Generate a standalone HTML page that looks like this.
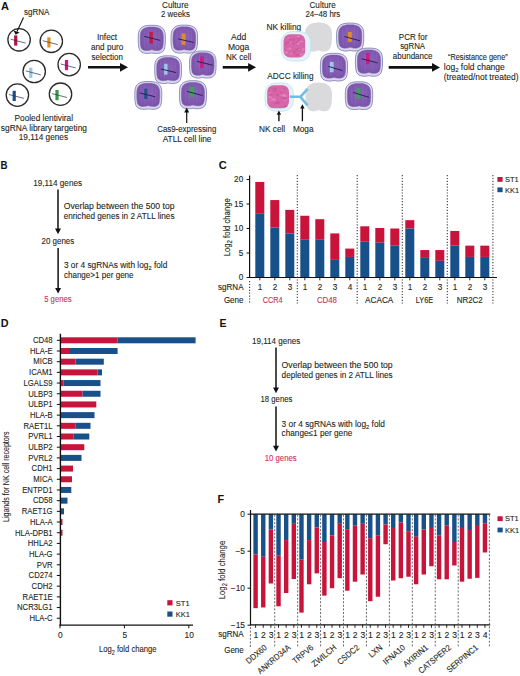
<!DOCTYPE html><html><head><meta charset="utf-8"><style>html,body{margin:0;padding:0;background:#fff;} svg{display:block;} text{font-family:"Liberation Sans", sans-serif;}</style></head><body>
<svg width="520" height="676" viewBox="0 0 520 676">
<rect width="520" height="676" fill="#fff"/>
<text x="1" y="9.8" font-size="11" text-anchor="start" fill="#111" stroke="#111" stroke-width="0" font-weight="bold" >A</text>
<text x="24" y="14.8" font-size="8.5" text-anchor="start" fill="#231f20" stroke="#231f20" stroke-width="0.1" font-weight="normal" textLength="25.4" lengthAdjust="spacingAndGlyphs" >sgRNA</text>
<circle cx="19.1" cy="39.8" r="11.2" fill="#fff" stroke="#2b2b2b" stroke-width="1.3"/>
<rect x="14.1" y="35.4" width="3.2" height="10.2" fill="#b5123f"/>
<line x1="10.600000000000001" y1="39.199999999999996" x2="25.6" y2="43.099999999999994" stroke="#2a2f4a" stroke-width="0.7"/>
<circle cx="51.3" cy="41.3" r="11.2" fill="#fff" stroke="#2b2b2b" stroke-width="1.3"/>
<rect x="47.3" y="37.3" width="3.2" height="10.2" fill="#e8901f"/>
<line x1="42.8" y1="40.699999999999996" x2="57.8" y2="44.599999999999994" stroke="#2a2f4a" stroke-width="0.7"/>
<circle cx="34.2" cy="71.5" r="11.2" fill="#fff" stroke="#2b2b2b" stroke-width="1.3"/>
<rect x="29.2" y="67.7" width="3.2" height="10.2" fill="#8fcbe8"/>
<line x1="25.700000000000003" y1="70.9" x2="40.7" y2="74.8" stroke="#2a2f4a" stroke-width="0.7"/>
<circle cx="69.2" cy="64.6" r="11.2" fill="#fff" stroke="#2b2b2b" stroke-width="1.3"/>
<rect x="64.9" y="60.0" width="3.2" height="10.2" fill="#d4157f"/>
<line x1="60.7" y1="63.99999999999999" x2="75.7" y2="67.89999999999999" stroke="#2a2f4a" stroke-width="0.7"/>
<circle cx="17.4" cy="95.1" r="11.2" fill="#fff" stroke="#2b2b2b" stroke-width="1.3"/>
<rect x="12.6" y="90.8" width="3.2" height="10.2" fill="#1c4f8a"/>
<line x1="8.899999999999999" y1="94.5" x2="23.9" y2="98.39999999999999" stroke="#2a2f4a" stroke-width="0.7"/>
<circle cx="60.5" cy="94.2" r="11.2" fill="#fff" stroke="#2b2b2b" stroke-width="1.3"/>
<rect x="55.4" y="90.0" width="3.2" height="10.2" fill="#2f9a48"/>
<line x1="52.0" y1="93.60000000000001" x2="67.0" y2="97.5" stroke="#2a2f4a" stroke-width="0.7"/>
<line x1="23.5" y1="17.5" x2="17" y2="31.5" stroke="#111" stroke-width="1.1"/>
<polygon points="13.6,30.5 15.6,34.8 19.6,32.4" fill="#111"/>
<text x="14.5" y="121" font-size="8.5" text-anchor="start" fill="#231f20" stroke="#231f20" stroke-width="0.1" font-weight="normal" textLength="58.5" lengthAdjust="spacingAndGlyphs" >Pooled lentiviral</text>
<text x="0.8" y="130.8" font-size="8.5" text-anchor="start" fill="#231f20" stroke="#231f20" stroke-width="0.1" font-weight="normal" textLength="86.2" lengthAdjust="spacingAndGlyphs" >sgRNA library targeting</text>
<text x="18.8" y="140.3" font-size="8.5" text-anchor="start" fill="#231f20" stroke="#231f20" stroke-width="0.1" font-weight="normal" textLength="49.2" lengthAdjust="spacingAndGlyphs" >19,114 genes</text>
<text x="97" y="40.3" font-size="8.5" text-anchor="start" fill="#231f20" stroke="#231f20" stroke-width="0.1" font-weight="normal" textLength="20.1" lengthAdjust="spacingAndGlyphs" >Infect</text>
<text x="91" y="50.0" font-size="8.5" text-anchor="start" fill="#231f20" stroke="#231f20" stroke-width="0.1" font-weight="normal" textLength="32.3" lengthAdjust="spacingAndGlyphs" >and puro</text>
<text x="91.5" y="59.6" font-size="8.5" text-anchor="start" fill="#231f20" stroke="#231f20" stroke-width="0.1" font-weight="normal" textLength="31.4" lengthAdjust="spacingAndGlyphs" >selection</text>
<line x1="88" y1="67.3" x2="121" y2="67.3" stroke="#111" stroke-width="2.6"/>
<polygon points="120,62.9 128,67.3 120,71.7" fill="#111"/>
<defs>
<radialGradient id="cg" cx="0.5" cy="0.45" r="0.6"><stop offset="0" stop-color="#8a62b8"/><stop offset="1" stop-color="#7a52aa"/></radialGradient>
<g id="cellbody"><path d="M13.5,0.3 C21,0.1 26.5,2 26.9,10 C27.2,16 27,21.5 25.8,24.8 C24.4,28 20,28.8 16.5,28.5 C15.2,28.4 14.3,28 13.5,28 C12.7,28 11.8,28.4 10.5,28.5 C7,28.8 2.6,28 1.2,24.8 C0,21.5 -0.2,16 0.1,10 C0.5,2 6,0.1 13.5,0.3 Z" fill="#dcd5ee" stroke="#6f74a6" stroke-width="0.75"/><path d="M13.5,2.1 C19.8,1.9 24.5,3.6 24.9,10.3 C25.2,15.8 25,20.5 24,23 C22.8,25.6 19.5,25.9 16.5,25.5 C15.2,25.3 14.3,24.8 13.5,24.8 C12.7,24.8 11.8,25.3 10.5,25.5 C7.5,25.9 4.2,25.6 3,23 C2,20.5 1.8,15.8 2.1,10.3 C2.5,3.6 7.2,1.9 13.5,2.1 Z" fill="url(#cg)" stroke="#7360a8" stroke-width="0.5"/><path d="M6,5 L6.5,23 M10,4 L10,24 M17.5,4 L17.5,24 M21,5 L20.5,23" stroke="#9a82d2" stroke-width="1.2" opacity="0.2"/></g>
</defs>
<text x="162" y="8.2" font-size="8.5" text-anchor="start" fill="#231f20" stroke="#231f20" stroke-width="0.1" font-weight="normal" textLength="26.5" lengthAdjust="spacingAndGlyphs" >Culture</text>
<text x="161" y="17.1" font-size="8.5" text-anchor="start" fill="#231f20" stroke="#231f20" stroke-width="0.1" font-weight="normal" textLength="28.9" lengthAdjust="spacingAndGlyphs" >2 weeks</text>
<g transform="translate(138.2,25) scale(1.007,0.997)"><use href="#cellbody"/></g>
<rect x="149.4" y="32" width="3.50" height="11.60" fill="#c8133b" opacity="0.9"/>
<line x1="144.1" y1="36.3" x2="160.3" y2="40.4" stroke="#2a1d50" stroke-width="0.95"/>
<g transform="translate(171,24.8) scale(0.985,0.993)"><use href="#cellbody"/></g>
<rect x="181.5" y="33.5" width="4.10" height="11.30" fill="#e8901f" opacity="0.9"/>
<line x1="178.2" y1="38.9" x2="193.7" y2="42.5" stroke="#2a1d50" stroke-width="0.95"/>
<g transform="translate(154.7,55.5) scale(0.996,0.983)"><use href="#cellbody"/></g>
<rect x="164.1" y="63.8" width="3.40" height="10.80" fill="#9fd3f0" opacity="0.9"/>
<line x1="160.8" y1="69" x2="176.2" y2="72.6" stroke="#2a1d50" stroke-width="0.95"/>
<g transform="translate(189.5,50.7) scale(0.985,0.959)"><use href="#cellbody"/></g>
<rect x="200" y="56.4" width="3.80" height="11.50" fill="#d4157f" opacity="0.9"/>
<line x1="197.1" y1="61.4" x2="212.6" y2="65.2" stroke="#2a1d50" stroke-width="0.95"/>
<g transform="translate(134.8,81.2) scale(1.000,0.986)"><use href="#cellbody"/></g>
<rect x="144.2" y="88.7" width="3.20" height="10.30" fill="#1c4f8a" opacity="0.9"/>
<line x1="139.5" y1="92.9" x2="155.3" y2="96.8" stroke="#2a1d50" stroke-width="0.95"/>
<g transform="translate(179.4,80.4) scale(1.004,0.993)"><use href="#cellbody"/></g>
<rect x="190.1" y="86.7" width="4.10" height="10.10" fill="#2fae4a" opacity="0.9"/>
<line x1="187" y1="91.4" x2="202.5" y2="95.5" stroke="#2a1d50" stroke-width="0.95"/>
<line x1="186.7" y1="123" x2="186.7" y2="112.0" stroke="#111" stroke-width="1.2"/>
<polygon points="184.2,112.5 186.7,107.5 189.2,112.5" fill="#111"/>
<text x="157.2" y="131.6" font-size="8.5" text-anchor="start" fill="#231f20" stroke="#231f20" stroke-width="0.1" font-weight="normal" textLength="59.2" lengthAdjust="spacingAndGlyphs" >Cas9-expressing</text>
<text x="162.7" y="142.0" font-size="8.5" text-anchor="start" fill="#231f20" stroke="#231f20" stroke-width="0.1" font-weight="normal" textLength="48.8" lengthAdjust="spacingAndGlyphs" >ATLL cell line</text>
<text x="231.1" y="40.1" font-size="8.5" text-anchor="start" fill="#231f20" stroke="#231f20" stroke-width="0.1" font-weight="normal" textLength="15.2" lengthAdjust="spacingAndGlyphs" >Add</text>
<text x="227.9" y="50.1" font-size="8.5" text-anchor="start" fill="#231f20" stroke="#231f20" stroke-width="0.1" font-weight="normal" textLength="21.3" lengthAdjust="spacingAndGlyphs" >Moga</text>
<text x="225.9" y="59.7" font-size="8.5" text-anchor="start" fill="#231f20" stroke="#231f20" stroke-width="0.1" font-weight="normal" textLength="25.4" lengthAdjust="spacingAndGlyphs" >NK cell</text>
<line x1="222.7" y1="67.3" x2="249.10000000000002" y2="67.3" stroke="#111" stroke-width="2.6"/>
<polygon points="248.10000000000002,62.9 256.1,67.3 248.10000000000002,71.7" fill="#111"/>
<text x="309.5" y="8.4" font-size="8.5" text-anchor="start" fill="#231f20" stroke="#231f20" stroke-width="0.1" font-weight="normal" textLength="26.2" lengthAdjust="spacingAndGlyphs" >Culture</text>
<text x="305.4" y="17.2" font-size="8.5" text-anchor="start" fill="#231f20" stroke="#231f20" stroke-width="0.1" font-weight="normal" textLength="34.9" lengthAdjust="spacingAndGlyphs" >24–48 hrs</text>
<text x="266.5" y="29.9" font-size="8.5" text-anchor="start" fill="#231f20" stroke="#231f20" stroke-width="0.1" font-weight="normal" textLength="34.7" lengthAdjust="spacingAndGlyphs" >NK killing</text>
<g transform="translate(305,22.4) scale(1.000,1.014)"><path d="M13.5,0.2 C21.5,0 26.8,3.5 27,11 C27.2,17 26.8,22 25.2,25.2 C23.6,28.6 19.5,29.2 16.5,28.6 C15.2,28.3 14.3,27.8 13.5,27.8 C12.7,27.8 11.8,28.3 10.5,28.6 C7.5,29.2 3.4,28.6 1.8,25.2 C0.2,22 -0.2,17 0,11 C0.2,3.5 5.5,0 13.5,0.2 Z" fill="#dadadc"/></g>
<rect x="281.2" y="31.5" width="29.4" height="29.6" rx="10.58" fill="#e3f1f9" stroke="#bfe0f1" stroke-width="0.7"/>
<rect x="283.5" y="34.3" width="21.70" height="23.10" rx="6.51" fill="#d766a8"/>
<ellipse cx="296.9" cy="49.8" rx="1.6" ry="1.0" fill="#c2508f" opacity="0.55"/>
<ellipse cx="297.2" cy="43.8" rx="1.4" ry="0.8" fill="#e690c4" opacity="0.55"/>
<ellipse cx="298.6" cy="40.9" rx="1.5" ry="0.9" fill="#c2508f" opacity="0.55"/>
<ellipse cx="303.2" cy="49.4" rx="1.7" ry="1.3" fill="#e690c4" opacity="0.55"/>
<ellipse cx="293.4" cy="39.5" rx="1.7" ry="1.3" fill="#c2508f" opacity="0.55"/>
<ellipse cx="289.5" cy="48.7" rx="2.2" ry="1.3" fill="#e690c4" opacity="0.55"/>
<ellipse cx="297.2" cy="54.8" rx="2.0" ry="1.0" fill="#c2508f" opacity="0.55"/>
<ellipse cx="288.4" cy="38.0" rx="1.5" ry="0.8" fill="#e690c4" opacity="0.55"/>
<ellipse cx="290.1" cy="39.6" rx="1.5" ry="1.1" fill="#c2508f" opacity="0.55"/>
<ellipse cx="290.3" cy="42.7" rx="1.1" ry="1.3" fill="#e690c4" opacity="0.55"/>
<ellipse cx="294.3" cy="52.4" rx="1.4" ry="1.1" fill="#c2508f" opacity="0.55"/>
<ellipse cx="286.3" cy="52.5" rx="2.1" ry="1.2" fill="#e690c4" opacity="0.55"/>
<ellipse cx="297.9" cy="49.2" rx="1.3" ry="0.9" fill="#c2508f" opacity="0.55"/>
<ellipse cx="298.5" cy="43.4" rx="1.1" ry="1.4" fill="#e690c4" opacity="0.55"/>
<ellipse cx="298.7" cy="38.6" rx="2.1" ry="0.8" fill="#c2508f" opacity="0.55"/>
<ellipse cx="299.5" cy="41.7" rx="1.1" ry="0.7" fill="#e690c4" opacity="0.55"/>
<ellipse cx="293.5" cy="43.5" rx="1.4" ry="0.9" fill="#c2508f" opacity="0.55"/>
<ellipse cx="301.8" cy="54.3" rx="1.9" ry="1.4" fill="#e690c4" opacity="0.55"/>
<ellipse cx="287.9" cy="42.6" rx="2.1" ry="1.2" fill="#c2508f" opacity="0.55"/>
<ellipse cx="298.3" cy="36.5" rx="1.6" ry="0.9" fill="#e690c4" opacity="0.55"/>
<ellipse cx="299.9" cy="49.4" rx="2.2" ry="1.1" fill="#c2508f" opacity="0.55"/>
<ellipse cx="299.6" cy="49.5" rx="2.0" ry="0.8" fill="#e690c4" opacity="0.55"/>
<ellipse cx="296.4" cy="42.6" rx="1.1" ry="1.2" fill="#c2508f" opacity="0.55"/>
<ellipse cx="291.1" cy="53.7" rx="1.1" ry="1.4" fill="#e690c4" opacity="0.55"/>
<ellipse cx="285.9" cy="44.0" rx="1.1" ry="1.2" fill="#c2508f" opacity="0.55"/>
<ellipse cx="301.5" cy="41.5" rx="2.0" ry="1.1" fill="#e690c4" opacity="0.55"/>
<g transform="translate(336.6,22.8) scale(1.007,0.990)"><use href="#cellbody"/></g>
<rect x="348" y="32" width="3.80" height="9.80" fill="#e8901f" opacity="0.9"/>
<line x1="344.5" y1="36.6" x2="360" y2="40.8" stroke="#2a1d50" stroke-width="0.95"/>
<g transform="translate(320.4,53) scale(1.007,0.983)"><use href="#cellbody"/></g>
<rect x="329.8" y="61.9" width="3.80" height="10.40" fill="#9fd3f0" opacity="0.9"/>
<line x1="328.4" y1="66.4" x2="342.4" y2="70.6" stroke="#2a1d50" stroke-width="0.95"/>
<g transform="translate(355.4,47.8) scale(1.004,0.997)"><use href="#cellbody"/></g>
<rect x="365.9" y="53" width="3.70" height="11.30" fill="#d4157f" opacity="0.9"/>
<line x1="361.4" y1="58.7" x2="377.6" y2="62.9" stroke="#2a1d50" stroke-width="0.95"/>
<g transform="translate(345.3,81.5) scale(1.015,0.983)"><use href="#cellbody"/></g>
<rect x="356.5" y="88.2" width="3.80" height="10.60" fill="#2fae4a" opacity="0.9"/>
<line x1="353" y1="92.4" x2="369.1" y2="97.4" stroke="#2a1d50" stroke-width="0.95"/>
<text x="267.3" y="79.3" font-size="8.5" text-anchor="start" fill="#231f20" stroke="#231f20" stroke-width="0.1" font-weight="normal" textLength="46.2" lengthAdjust="spacingAndGlyphs" >ADCC killing</text>
<g transform="translate(305.5,82.3) scale(0.981,1.007)"><path d="M13.5,0.2 C21.5,0 26.8,3.5 27,11 C27.2,17 26.8,22 25.2,25.2 C23.6,28.6 19.5,29.2 16.5,28.6 C15.2,28.3 14.3,27.8 13.5,27.8 C12.7,27.8 11.8,28.3 10.5,28.6 C7.5,29.2 3.4,28.6 1.8,25.2 C0.2,22 -0.2,17 0,11 C0.2,3.5 5.5,0 13.5,0.2 Z" fill="#dadadc"/></g>
<rect x="265" y="83" width="28.5" height="28.2" rx="10.26" fill="#e3f1f9" stroke="#bfe0f1" stroke-width="0.7"/>
<rect x="267.2" y="85.2" width="21.80" height="23.10" rx="6.54" fill="#d766a8"/>
<ellipse cx="281.4" cy="92.1" rx="1.3" ry="0.9" fill="#c2508f" opacity="0.55"/>
<ellipse cx="285.2" cy="100.5" rx="1.2" ry="0.7" fill="#e690c4" opacity="0.55"/>
<ellipse cx="284.2" cy="89.0" rx="1.1" ry="1.5" fill="#c2508f" opacity="0.55"/>
<ellipse cx="269.5" cy="96.6" rx="1.6" ry="1.3" fill="#e690c4" opacity="0.55"/>
<ellipse cx="271.5" cy="89.2" rx="1.6" ry="1.4" fill="#c2508f" opacity="0.55"/>
<ellipse cx="270.4" cy="97.6" rx="1.4" ry="1.3" fill="#e690c4" opacity="0.55"/>
<ellipse cx="270.7" cy="95.1" rx="2.1" ry="0.9" fill="#c2508f" opacity="0.55"/>
<ellipse cx="270.0" cy="92.8" rx="1.1" ry="1.3" fill="#e690c4" opacity="0.55"/>
<ellipse cx="282.7" cy="96.8" rx="2.2" ry="1.3" fill="#c2508f" opacity="0.55"/>
<ellipse cx="284.2" cy="96.0" rx="2.2" ry="1.1" fill="#e690c4" opacity="0.55"/>
<ellipse cx="277.6" cy="94.9" rx="1.8" ry="0.8" fill="#c2508f" opacity="0.55"/>
<ellipse cx="273.1" cy="99.5" rx="1.7" ry="0.7" fill="#e690c4" opacity="0.55"/>
<ellipse cx="285.7" cy="106.0" rx="2.0" ry="1.0" fill="#c2508f" opacity="0.55"/>
<ellipse cx="283.0" cy="89.8" rx="1.0" ry="0.8" fill="#e690c4" opacity="0.55"/>
<ellipse cx="276.2" cy="103.1" rx="2.3" ry="0.9" fill="#c2508f" opacity="0.55"/>
<ellipse cx="270.4" cy="89.5" rx="2.0" ry="1.0" fill="#e690c4" opacity="0.55"/>
<ellipse cx="275.5" cy="88.9" rx="1.8" ry="1.1" fill="#c2508f" opacity="0.55"/>
<ellipse cx="273.8" cy="99.6" rx="2.2" ry="1.5" fill="#e690c4" opacity="0.55"/>
<ellipse cx="278.3" cy="102.5" rx="1.5" ry="1.5" fill="#c2508f" opacity="0.55"/>
<ellipse cx="285.1" cy="95.9" rx="1.8" ry="1.1" fill="#e690c4" opacity="0.55"/>
<ellipse cx="269.8" cy="89.9" rx="1.4" ry="1.3" fill="#c2508f" opacity="0.55"/>
<ellipse cx="270.5" cy="100.7" rx="1.1" ry="0.9" fill="#e690c4" opacity="0.55"/>
<ellipse cx="284.9" cy="98.0" rx="1.8" ry="1.0" fill="#c2508f" opacity="0.55"/>
<ellipse cx="282.2" cy="95.4" rx="1.8" ry="1.2" fill="#e690c4" opacity="0.55"/>
<ellipse cx="274.6" cy="90.8" rx="1.6" ry="1.2" fill="#c2508f" opacity="0.55"/>
<ellipse cx="284.2" cy="95.1" rx="1.4" ry="1.0" fill="#e690c4" opacity="0.55"/>
<path d="M289.6,96.8 L300.4,96.8 L307.6,88.8 M300.4,96.8 L307.6,105.4" stroke="#74bde2" stroke-width="2.6" fill="none" stroke-linejoin="bevel"/>
<line x1="278.9" y1="121.3" x2="278.9" y2="114.2" stroke="#111" stroke-width="1.4"/>
<polygon points="276.7,114.7 278.9,110.5 281.09999999999997,114.7" fill="#111"/>
<line x1="302.4" y1="121.3" x2="302.4" y2="108.0" stroke="#111" stroke-width="1.3"/>
<polygon points="300.2,108.5 302.4,104.3 304.59999999999997,108.5" fill="#111"/>
<text x="259.1" y="131.9" font-size="8.5" text-anchor="start" fill="#231f20" stroke="#231f20" stroke-width="0.1" font-weight="normal" textLength="26.1" lengthAdjust="spacingAndGlyphs" >NK cell</text>
<text x="292.9" y="131.9" font-size="8.5" text-anchor="start" fill="#231f20" stroke="#231f20" stroke-width="0.1" font-weight="normal" textLength="20.6" lengthAdjust="spacingAndGlyphs" >Moga</text>
<text x="398.8" y="39.7" font-size="8.5" text-anchor="start" fill="#231f20" stroke="#231f20" stroke-width="0.1" font-weight="normal" textLength="28.6" lengthAdjust="spacingAndGlyphs" >PCR for</text>
<text x="400.2" y="49.3" font-size="8.5" text-anchor="start" fill="#231f20" stroke="#231f20" stroke-width="0.1" font-weight="normal" textLength="24.9" lengthAdjust="spacingAndGlyphs" >sgRNA</text>
<text x="392.8" y="58.9" font-size="8.5" text-anchor="start" fill="#231f20" stroke="#231f20" stroke-width="0.1" font-weight="normal" textLength="39.7" lengthAdjust="spacingAndGlyphs" >abundance</text>
<line x1="388.7" y1="67.4" x2="433" y2="67.4" stroke="#111" stroke-width="2.6"/>
<polygon points="432,63.00000000000001 440,67.4 432,71.80000000000001" fill="#111"/>
<text x="448" y="60.0" font-size="8.5" text-anchor="start" fill="#231f20" stroke="#231f20" stroke-width="0.1" font-weight="normal" textLength="59.7" lengthAdjust="spacingAndGlyphs" >“Resistance gene”</text>
<text x="443.8" y="69.8" font-size="8.5" fill="#231f20" stroke="#231f20" stroke-width="0.1">log<tspan font-size="6" dy="2">2</tspan><tspan dy="-2"> fold change</tspan></text>
<text x="443.8" y="79.5" font-size="8.5" text-anchor="start" fill="#231f20" stroke="#231f20" stroke-width="0.1" font-weight="normal" textLength="74.7" lengthAdjust="spacingAndGlyphs" >(treated/not treated)</text>
<text x="0.6" y="168.8" font-size="11" text-anchor="start" fill="#111" stroke="#111" stroke-width="0" font-weight="bold" textLength="7" lengthAdjust="spacingAndGlyphs" >B</text>
<text x="33.3" y="185.5" font-size="8.5" text-anchor="start" fill="#231f20" stroke="#231f20" stroke-width="0.1" font-weight="normal" textLength="48.7" lengthAdjust="spacingAndGlyphs" >19,114 genes</text>
<line x1="58" y1="189.5" x2="58" y2="229.10000000000002" stroke="#111" stroke-width="1.5"/>
<polygon points="55.0,228.60000000000002 58,234.3 61.0,228.60000000000002" fill="#111"/>
<text x="63.7" y="209.3" font-size="8.5" text-anchor="start" fill="#231f20" stroke="#231f20" stroke-width="0.1" font-weight="normal" textLength="110.8" lengthAdjust="spacingAndGlyphs" >Overlap between the 500 top</text>
<text x="63.7" y="219.2" font-size="8.5" text-anchor="start" fill="#231f20" stroke="#231f20" stroke-width="0.1" font-weight="normal" textLength="110.8" lengthAdjust="spacingAndGlyphs" >enriched genes in 2 ATLL lines</text>
<text x="41.5" y="243.8" font-size="8.5" text-anchor="start" fill="#231f20" stroke="#231f20" stroke-width="0.1" font-weight="normal" textLength="32.8" lengthAdjust="spacingAndGlyphs" >20 genes</text>
<line x1="58.1" y1="247.9" x2="58.1" y2="288.40000000000003" stroke="#111" stroke-width="1.5"/>
<polygon points="55.1,287.90000000000003 58.1,293.6 61.1,287.90000000000003" fill="#111"/>
<text x="63.9" y="268.3" font-size="8.5" fill="#231f20" stroke="#231f20" stroke-width="0.1" textLength="103.4" lengthAdjust="spacingAndGlyphs">3 or 4 sgRNAs with log<tspan font-size="5.8" dy="2">2</tspan><tspan dy="-2"> fold</tspan></text>
<text x="63.9" y="277.8" font-size="8.5" text-anchor="start" fill="#231f20" stroke="#231f20" stroke-width="0.1" font-weight="normal" textLength="69.7" lengthAdjust="spacingAndGlyphs" >change&gt;1 per gene</text>
<text x="44.2" y="302.3" font-size="8.5" text-anchor="start" fill="#c7325c" stroke="#c7325c" stroke-width="0.1" font-weight="normal" textLength="27.4" lengthAdjust="spacingAndGlyphs" >5 genes</text>
<text x="218.8" y="169.4" font-size="11" text-anchor="start" fill="#111" stroke="#111" stroke-width="0" font-weight="bold" textLength="8" lengthAdjust="spacingAndGlyphs" >C</text>
<rect x="255.30" y="181.95" width="9" height="31.85" fill="#c8133b"/>
<rect x="255.30" y="213.80" width="9" height="63.70" fill="#18508a"/>
<rect x="270.30" y="200.08" width="9" height="27.44" fill="#c8133b"/>
<rect x="270.30" y="227.52" width="9" height="49.98" fill="#18508a"/>
<rect x="285.30" y="209.88" width="9" height="23.52" fill="#c8133b"/>
<rect x="285.30" y="233.40" width="9" height="44.10" fill="#18508a"/>
<rect x="300.30" y="215.76" width="9" height="24.01" fill="#c8133b"/>
<rect x="300.30" y="239.77" width="9" height="37.73" fill="#18508a"/>
<rect x="315.30" y="219.19" width="9" height="20.58" fill="#c8133b"/>
<rect x="315.30" y="239.77" width="9" height="37.73" fill="#18508a"/>
<rect x="330.30" y="233.40" width="9" height="26.46" fill="#c8133b"/>
<rect x="330.30" y="259.86" width="9" height="17.64" fill="#18508a"/>
<rect x="345.30" y="248.59" width="9" height="8.33" fill="#c8133b"/>
<rect x="345.30" y="256.92" width="9" height="20.58" fill="#18508a"/>
<rect x="360.30" y="226.30" width="9" height="15.43" fill="#c8133b"/>
<rect x="360.30" y="241.73" width="9" height="35.77" fill="#18508a"/>
<rect x="375.30" y="228.01" width="9" height="14.70" fill="#c8133b"/>
<rect x="375.30" y="242.71" width="9" height="34.79" fill="#18508a"/>
<rect x="390.30" y="228.50" width="9" height="17.15" fill="#c8133b"/>
<rect x="390.30" y="245.65" width="9" height="31.85" fill="#18508a"/>
<rect x="405.30" y="220.17" width="9" height="8.33" fill="#c8133b"/>
<rect x="405.30" y="228.50" width="9" height="49.00" fill="#18508a"/>
<rect x="420.30" y="250.06" width="9" height="7.84" fill="#c8133b"/>
<rect x="420.30" y="257.90" width="9" height="19.60" fill="#18508a"/>
<rect x="435.30" y="250.06" width="9" height="10.78" fill="#c8133b"/>
<rect x="435.30" y="260.84" width="9" height="16.66" fill="#18508a"/>
<rect x="450.30" y="230.95" width="9" height="14.70" fill="#c8133b"/>
<rect x="450.30" y="245.65" width="9" height="31.85" fill="#18508a"/>
<rect x="465.30" y="245.65" width="9" height="11.27" fill="#c8133b"/>
<rect x="465.30" y="256.92" width="9" height="20.58" fill="#18508a"/>
<rect x="480.30" y="245.65" width="9" height="11.27" fill="#c8133b"/>
<rect x="480.30" y="256.92" width="9" height="20.58" fill="#18508a"/>
<line x1="249.6" y1="175.6" x2="249.6" y2="278.1" stroke="#111" stroke-width="1.2"/>
<line x1="249" y1="277.5" x2="497" y2="277.5" stroke="#111" stroke-width="1.2"/>
<line x1="246.6" y1="277.50" x2="249.6" y2="277.50" stroke="#111" stroke-width="1"/>
<text x="243.2" y="280.4" font-size="8.2" text-anchor="end" fill="#231f20" stroke="#231f20" stroke-width="0.12" font-weight="normal" >0</text>
<line x1="246.6" y1="253.00" x2="249.6" y2="253.00" stroke="#111" stroke-width="1"/>
<text x="243.2" y="255.9" font-size="8.2" text-anchor="end" fill="#231f20" stroke="#231f20" stroke-width="0.12" font-weight="normal" >5</text>
<line x1="246.6" y1="228.50" x2="249.6" y2="228.50" stroke="#111" stroke-width="1"/>
<text x="243.2" y="231.4" font-size="8.2" text-anchor="end" fill="#231f20" stroke="#231f20" stroke-width="0.12" font-weight="normal" >10</text>
<line x1="246.6" y1="204.00" x2="249.6" y2="204.00" stroke="#111" stroke-width="1"/>
<text x="243.2" y="206.9" font-size="8.2" text-anchor="end" fill="#231f20" stroke="#231f20" stroke-width="0.12" font-weight="normal" >15</text>
<line x1="246.6" y1="179.50" x2="249.6" y2="179.50" stroke="#111" stroke-width="1"/>
<text x="243.2" y="182.4" font-size="8.2" text-anchor="end" fill="#231f20" stroke="#231f20" stroke-width="0.12" font-weight="normal" >20</text>
<line x1="259.80" y1="277.5" x2="259.80" y2="280.3" stroke="#111" stroke-width="0.9"/>
<line x1="274.80" y1="277.5" x2="274.80" y2="280.3" stroke="#111" stroke-width="0.9"/>
<line x1="289.80" y1="277.5" x2="289.80" y2="280.3" stroke="#111" stroke-width="0.9"/>
<line x1="304.80" y1="277.5" x2="304.80" y2="280.3" stroke="#111" stroke-width="0.9"/>
<line x1="319.80" y1="277.5" x2="319.80" y2="280.3" stroke="#111" stroke-width="0.9"/>
<line x1="334.80" y1="277.5" x2="334.80" y2="280.3" stroke="#111" stroke-width="0.9"/>
<line x1="349.80" y1="277.5" x2="349.80" y2="280.3" stroke="#111" stroke-width="0.9"/>
<line x1="364.80" y1="277.5" x2="364.80" y2="280.3" stroke="#111" stroke-width="0.9"/>
<line x1="379.80" y1="277.5" x2="379.80" y2="280.3" stroke="#111" stroke-width="0.9"/>
<line x1="394.80" y1="277.5" x2="394.80" y2="280.3" stroke="#111" stroke-width="0.9"/>
<line x1="409.80" y1="277.5" x2="409.80" y2="280.3" stroke="#111" stroke-width="0.9"/>
<line x1="424.80" y1="277.5" x2="424.80" y2="280.3" stroke="#111" stroke-width="0.9"/>
<line x1="439.80" y1="277.5" x2="439.80" y2="280.3" stroke="#111" stroke-width="0.9"/>
<line x1="454.80" y1="277.5" x2="454.80" y2="280.3" stroke="#111" stroke-width="0.9"/>
<line x1="469.80" y1="277.5" x2="469.80" y2="280.3" stroke="#111" stroke-width="0.9"/>
<line x1="484.80" y1="277.5" x2="484.80" y2="280.3" stroke="#111" stroke-width="0.9"/>
<line x1="297.3" y1="175" x2="297.3" y2="303.5" stroke="#3a3a3a" stroke-width="1.1" stroke-dasharray="1.2,1.7"/>
<line x1="357.2" y1="175" x2="357.2" y2="303.5" stroke="#3a3a3a" stroke-width="1.1" stroke-dasharray="1.2,1.7"/>
<line x1="402.3" y1="175" x2="402.3" y2="303.5" stroke="#3a3a3a" stroke-width="1.1" stroke-dasharray="1.2,1.7"/>
<line x1="447.3" y1="175" x2="447.3" y2="303.5" stroke="#3a3a3a" stroke-width="1.1" stroke-dasharray="1.2,1.7"/>
<line x1="492.9" y1="175" x2="492.9" y2="303.5" stroke="#3a3a3a" stroke-width="1.1" stroke-dasharray="1.2,1.7"/>
<line x1="249.6" y1="281" x2="249.6" y2="303.5" stroke="#3a3a3a" stroke-width="1.1" stroke-dasharray="1.2,1.7"/>
<text x="260.1" y="290.3" font-size="8.2" text-anchor="middle" fill="#231f20" stroke="#231f20" stroke-width="0.12" font-weight="normal" >1</text>
<text x="275.1" y="290.3" font-size="8.2" text-anchor="middle" fill="#231f20" stroke="#231f20" stroke-width="0.12" font-weight="normal" >2</text>
<text x="290.1" y="290.3" font-size="8.2" text-anchor="middle" fill="#231f20" stroke="#231f20" stroke-width="0.12" font-weight="normal" >3</text>
<text x="305.1" y="290.3" font-size="8.2" text-anchor="middle" fill="#231f20" stroke="#231f20" stroke-width="0.12" font-weight="normal" >1</text>
<text x="320.1" y="290.3" font-size="8.2" text-anchor="middle" fill="#231f20" stroke="#231f20" stroke-width="0.12" font-weight="normal" >2</text>
<text x="335.1" y="290.3" font-size="8.2" text-anchor="middle" fill="#231f20" stroke="#231f20" stroke-width="0.12" font-weight="normal" >3</text>
<text x="350.1" y="290.3" font-size="8.2" text-anchor="middle" fill="#231f20" stroke="#231f20" stroke-width="0.12" font-weight="normal" >4</text>
<text x="365.1" y="290.3" font-size="8.2" text-anchor="middle" fill="#231f20" stroke="#231f20" stroke-width="0.12" font-weight="normal" >1</text>
<text x="380.1" y="290.3" font-size="8.2" text-anchor="middle" fill="#231f20" stroke="#231f20" stroke-width="0.12" font-weight="normal" >2</text>
<text x="395.1" y="290.3" font-size="8.2" text-anchor="middle" fill="#231f20" stroke="#231f20" stroke-width="0.12" font-weight="normal" >3</text>
<text x="410.1" y="290.3" font-size="8.2" text-anchor="middle" fill="#231f20" stroke="#231f20" stroke-width="0.12" font-weight="normal" >1</text>
<text x="425.1" y="290.3" font-size="8.2" text-anchor="middle" fill="#231f20" stroke="#231f20" stroke-width="0.12" font-weight="normal" >2</text>
<text x="440.1" y="290.3" font-size="8.2" text-anchor="middle" fill="#231f20" stroke="#231f20" stroke-width="0.12" font-weight="normal" >3</text>
<text x="455.1" y="290.3" font-size="8.2" text-anchor="middle" fill="#231f20" stroke="#231f20" stroke-width="0.12" font-weight="normal" >1</text>
<text x="470.1" y="290.3" font-size="8.2" text-anchor="middle" fill="#231f20" stroke="#231f20" stroke-width="0.12" font-weight="normal" >2</text>
<text x="485.1" y="290.3" font-size="8.2" text-anchor="middle" fill="#231f20" stroke="#231f20" stroke-width="0.12" font-weight="normal" >3</text>
<text x="218.1" y="290.3" font-size="8.6" text-anchor="start" fill="#231f20" stroke="#231f20" stroke-width="0.12" font-weight="normal" textLength="25.4" lengthAdjust="spacingAndGlyphs" >sgRNA</text>
<text x="223.9" y="302.9" font-size="8.6" text-anchor="start" fill="#231f20" stroke="#231f20" stroke-width="0.12" font-weight="normal" textLength="19.6" lengthAdjust="spacingAndGlyphs" >Gene</text>
<text x="262.7" y="302.9" font-size="8.2" text-anchor="start" fill="#c7325c" stroke="#c7325c" stroke-width="0.12" font-weight="normal" textLength="20.0" lengthAdjust="spacingAndGlyphs" >CCR4</text>
<text x="316.9" y="302.9" font-size="8.2" text-anchor="start" fill="#c7325c" stroke="#c7325c" stroke-width="0.12" font-weight="normal" textLength="20.0" lengthAdjust="spacingAndGlyphs" >CD48</text>
<text x="365" y="302.9" font-size="8.2" text-anchor="start" fill="#231f20" stroke="#231f20" stroke-width="0.12" font-weight="normal" textLength="28.3" lengthAdjust="spacingAndGlyphs" >ACACA</text>
<text x="415.8" y="302.9" font-size="8.2" text-anchor="start" fill="#231f20" stroke="#231f20" stroke-width="0.12" font-weight="normal" textLength="17.3" lengthAdjust="spacingAndGlyphs" >LY6E</text>
<text x="456.7" y="302.9" font-size="8.2" text-anchor="start" fill="#231f20" stroke="#231f20" stroke-width="0.12" font-weight="normal" textLength="26.0" lengthAdjust="spacingAndGlyphs" >NR2C2</text>
<text transform="translate(229.7,256.3) rotate(-90)" font-size="8.4" fill="#231f20" stroke="#231f20" stroke-width="0.12" textLength="58" lengthAdjust="spacingAndGlyphs">Log<tspan font-size="6.6" dy="2">2</tspan><tspan dy="-2"> fold change</tspan></text>
<rect x="497.4" y="177" width="5.2" height="4.8" fill="#c8133b"/>
<rect x="497.4" y="187.4" width="5.2" height="4.8" fill="#18508a"/>
<text x="505" y="182.3" font-size="7.5" text-anchor="start" fill="#231f20" stroke="#231f20" stroke-width="0.1" font-weight="normal" >ST1</text>
<text x="505" y="192.6" font-size="7.5" text-anchor="start" fill="#231f20" stroke="#231f20" stroke-width="0.1" font-weight="normal" >KK1</text>
<text x="0.7" y="326.5" font-size="11" text-anchor="start" fill="#111" stroke="#111" stroke-width="0" font-weight="bold" textLength="7.8" lengthAdjust="spacingAndGlyphs" >D</text>
<text x="52.6" y="343.1" font-size="8.2" text-anchor="end" fill="#231f20" stroke="#231f20" stroke-width="0.1" font-weight="normal" textLength="19.71" lengthAdjust="spacingAndGlyphs" >CD48</text>
<line x1="56.8" y1="340.30" x2="60" y2="340.30" stroke="#111" stroke-width="1"/>
<rect x="60.0" y="337.30" width="57.70" height="6" fill="#c8133b"/>
<rect x="117.7" y="337.30" width="77.90" height="6" fill="#18508a"/>
<text x="52.6" y="353.79" font-size="8.2" text-anchor="end" fill="#231f20" stroke="#231f20" stroke-width="0.1" font-weight="normal" textLength="22.7" lengthAdjust="spacingAndGlyphs" >HLA-E</text>
<line x1="56.8" y1="350.99" x2="60" y2="350.99" stroke="#111" stroke-width="1"/>
<rect x="60.0" y="347.99" width="10.00" height="6" fill="#c8133b"/>
<rect x="70" y="347.99" width="47.60" height="6" fill="#18508a"/>
<text x="52.6" y="364.48" font-size="8.2" text-anchor="end" fill="#231f20" stroke="#231f20" stroke-width="0.1" font-weight="normal" textLength="19.27" lengthAdjust="spacingAndGlyphs" >MICB</text>
<line x1="56.8" y1="361.68" x2="60" y2="361.68" stroke="#111" stroke-width="1"/>
<rect x="60.0" y="358.68" width="15.50" height="6" fill="#c8133b"/>
<rect x="75.5" y="358.68" width="28.30" height="6" fill="#18508a"/>
<text x="52.6" y="375.17" font-size="8.2" text-anchor="end" fill="#231f20" stroke="#231f20" stroke-width="0.1" font-weight="normal" textLength="23.56" lengthAdjust="spacingAndGlyphs" >ICAM1</text>
<line x1="56.8" y1="372.37" x2="60" y2="372.37" stroke="#111" stroke-width="1"/>
<rect x="60.0" y="369.37" width="37.50" height="6" fill="#c8133b"/>
<rect x="97.5" y="369.37" width="4.50" height="6" fill="#18508a"/>
<text x="52.6" y="385.86" font-size="8.2" text-anchor="end" fill="#231f20" stroke="#231f20" stroke-width="0.1" font-weight="normal" textLength="29.14" lengthAdjust="spacingAndGlyphs" >LGALS9</text>
<line x1="56.8" y1="383.06" x2="60" y2="383.06" stroke="#111" stroke-width="1"/>
<rect x="60.0" y="380.06" width="3.70" height="6" fill="#c8133b"/>
<rect x="63.7" y="380.06" width="36.80" height="6" fill="#18508a"/>
<text x="52.6" y="396.55" font-size="8.2" text-anchor="end" fill="#231f20" stroke="#231f20" stroke-width="0.1" font-weight="normal" textLength="24.42" lengthAdjust="spacingAndGlyphs" >ULBP3</text>
<line x1="56.8" y1="393.75" x2="60" y2="393.75" stroke="#111" stroke-width="1"/>
<rect x="60.0" y="390.75" width="22.50" height="6" fill="#c8133b"/>
<rect x="82.5" y="390.75" width="18.00" height="6" fill="#18508a"/>
<text x="52.6" y="407.24" font-size="8.2" text-anchor="end" fill="#231f20" stroke="#231f20" stroke-width="0.1" font-weight="normal" textLength="24.42" lengthAdjust="spacingAndGlyphs" >ULBP1</text>
<line x1="56.8" y1="404.44" x2="60" y2="404.44" stroke="#111" stroke-width="1"/>
<rect x="60.0" y="401.44" width="36.30" height="6" fill="#c8133b"/>
<text x="52.6" y="417.93" font-size="8.2" text-anchor="end" fill="#231f20" stroke="#231f20" stroke-width="0.1" font-weight="normal" textLength="22.7" lengthAdjust="spacingAndGlyphs" >HLA-B</text>
<line x1="56.8" y1="415.13" x2="60" y2="415.13" stroke="#111" stroke-width="1"/>
<rect x="60.0" y="412.13" width="34.50" height="6" fill="#18508a"/>
<text x="52.6" y="428.62" font-size="8.2" text-anchor="end" fill="#231f20" stroke="#231f20" stroke-width="0.1" font-weight="normal" textLength="29.13" lengthAdjust="spacingAndGlyphs" >RAET1L</text>
<line x1="56.8" y1="425.82" x2="60" y2="425.82" stroke="#111" stroke-width="1"/>
<rect x="60.0" y="422.82" width="15.70" height="6" fill="#c8133b"/>
<rect x="75.7" y="422.82" width="14.80" height="6" fill="#18508a"/>
<text x="52.6" y="439.31" font-size="8.2" text-anchor="end" fill="#231f20" stroke="#231f20" stroke-width="0.1" font-weight="normal" textLength="24.42" lengthAdjust="spacingAndGlyphs" >PVRL1</text>
<line x1="56.8" y1="436.51" x2="60" y2="436.51" stroke="#111" stroke-width="1"/>
<rect x="60.0" y="433.51" width="13.70" height="6" fill="#c8133b"/>
<rect x="73.7" y="433.51" width="15.60" height="6" fill="#18508a"/>
<text x="52.6" y="450.0" font-size="8.2" text-anchor="end" fill="#231f20" stroke="#231f20" stroke-width="0.1" font-weight="normal" textLength="24.42" lengthAdjust="spacingAndGlyphs" >ULBP2</text>
<line x1="56.8" y1="447.20" x2="60" y2="447.20" stroke="#111" stroke-width="1"/>
<rect x="60.0" y="444.20" width="24.30" height="6" fill="#c8133b"/>
<text x="52.6" y="460.69" font-size="8.2" text-anchor="end" fill="#231f20" stroke="#231f20" stroke-width="0.1" font-weight="normal" textLength="24.42" lengthAdjust="spacingAndGlyphs" >PVRL2</text>
<line x1="56.8" y1="457.89" x2="60" y2="457.89" stroke="#111" stroke-width="1"/>
<rect x="60.0" y="454.89" width="21.50" height="6" fill="#18508a"/>
<text x="52.6" y="471.38" font-size="8.2" text-anchor="end" fill="#231f20" stroke="#231f20" stroke-width="0.1" font-weight="normal" textLength="20.99" lengthAdjust="spacingAndGlyphs" >CDH1</text>
<line x1="56.8" y1="468.58" x2="60" y2="468.58" stroke="#111" stroke-width="1"/>
<rect x="60.0" y="465.58" width="13.00" height="6" fill="#c8133b"/>
<text x="52.6" y="482.07" font-size="8.2" text-anchor="end" fill="#231f20" stroke="#231f20" stroke-width="0.1" font-weight="normal" textLength="19.27" lengthAdjust="spacingAndGlyphs" >MICA</text>
<line x1="56.8" y1="479.27" x2="60" y2="479.27" stroke="#111" stroke-width="1"/>
<rect x="60.0" y="476.27" width="12.00" height="6" fill="#c8133b"/>
<text x="52.6" y="492.76" font-size="8.2" text-anchor="end" fill="#231f20" stroke="#231f20" stroke-width="0.1" font-weight="normal" textLength="30.41" lengthAdjust="spacingAndGlyphs" >ENTPD1</text>
<line x1="56.8" y1="489.96" x2="60" y2="489.96" stroke="#111" stroke-width="1"/>
<rect x="60.0" y="486.96" width="11.30" height="6" fill="#18508a"/>
<text x="52.6" y="503.45" font-size="8.2" text-anchor="end" fill="#231f20" stroke="#231f20" stroke-width="0.1" font-weight="normal" textLength="19.71" lengthAdjust="spacingAndGlyphs" >CD58</text>
<line x1="56.8" y1="500.65" x2="60" y2="500.65" stroke="#111" stroke-width="1"/>
<rect x="60.0" y="497.65" width="7.50" height="6" fill="#18508a"/>
<text x="52.6" y="514.14" font-size="8.2" text-anchor="end" fill="#231f20" stroke="#231f20" stroke-width="0.1" font-weight="normal" textLength="30.84" lengthAdjust="spacingAndGlyphs" >RAET1G</text>
<line x1="56.8" y1="511.34" x2="60" y2="511.34" stroke="#111" stroke-width="1"/>
<rect x="60.0" y="508.34" width="4.00" height="6" fill="#18508a"/>
<text x="52.6" y="524.83" font-size="8.2" text-anchor="end" fill="#231f20" stroke="#231f20" stroke-width="0.1" font-weight="normal" textLength="22.7" lengthAdjust="spacingAndGlyphs" >HLA-A</text>
<line x1="56.8" y1="522.03" x2="60" y2="522.03" stroke="#111" stroke-width="1"/>
<rect x="60.0" y="519.03" width="2.50" height="6" fill="#c8133b"/>
<text x="52.6" y="535.52" font-size="8.2" text-anchor="end" fill="#231f20" stroke="#231f20" stroke-width="0.1" font-weight="normal" textLength="37.7" lengthAdjust="spacingAndGlyphs" >HLA-DPB1</text>
<line x1="56.8" y1="532.72" x2="60" y2="532.72" stroke="#111" stroke-width="1"/>
<rect x="60.0" y="529.72" width="2.50" height="6" fill="#c8133b"/>
<text x="52.6" y="546.21" font-size="8.2" text-anchor="end" fill="#231f20" stroke="#231f20" stroke-width="0.1" font-weight="normal" textLength="24.85" lengthAdjust="spacingAndGlyphs" >HHLA2</text>
<line x1="56.8" y1="543.41" x2="60" y2="543.41" stroke="#111" stroke-width="1"/>
<rect x="60.0" y="540.41" width="1.00" height="6" fill="#c8133b"/>
<text x="52.6" y="556.9" font-size="8.2" text-anchor="end" fill="#231f20" stroke="#231f20" stroke-width="0.1" font-weight="normal" textLength="23.56" lengthAdjust="spacingAndGlyphs" >HLA-G</text>
<line x1="56.8" y1="554.10" x2="60" y2="554.10" stroke="#111" stroke-width="1"/>
<text x="52.6" y="567.59" font-size="8.2" text-anchor="end" fill="#231f20" stroke="#231f20" stroke-width="0.1" font-weight="normal" textLength="15.85" lengthAdjust="spacingAndGlyphs" >PVR</text>
<line x1="56.8" y1="564.79" x2="60" y2="564.79" stroke="#111" stroke-width="1"/>
<text x="52.6" y="578.28" font-size="8.2" text-anchor="end" fill="#231f20" stroke="#231f20" stroke-width="0.1" font-weight="normal" textLength="23.99" lengthAdjust="spacingAndGlyphs" >CD274</text>
<line x1="56.8" y1="575.48" x2="60" y2="575.48" stroke="#111" stroke-width="1"/>
<text x="52.6" y="588.97" font-size="8.2" text-anchor="end" fill="#231f20" stroke="#231f20" stroke-width="0.1" font-weight="normal" textLength="20.99" lengthAdjust="spacingAndGlyphs" >CDH2</text>
<line x1="56.8" y1="586.17" x2="60" y2="586.17" stroke="#111" stroke-width="1"/>
<text x="52.6" y="599.66" font-size="8.2" text-anchor="end" fill="#231f20" stroke="#231f20" stroke-width="0.1" font-weight="normal" textLength="29.99" lengthAdjust="spacingAndGlyphs" >RAET1E</text>
<line x1="56.8" y1="596.86" x2="60" y2="596.86" stroke="#111" stroke-width="1"/>
<text x="52.6" y="610.35" font-size="8.2" text-anchor="end" fill="#231f20" stroke="#231f20" stroke-width="0.1" font-weight="normal" textLength="35.56" lengthAdjust="spacingAndGlyphs" >NCR3LG1</text>
<line x1="56.8" y1="607.55" x2="60" y2="607.55" stroke="#111" stroke-width="1"/>
<text x="52.6" y="621.04" font-size="8.2" text-anchor="end" fill="#231f20" stroke="#231f20" stroke-width="0.1" font-weight="normal" textLength="23.13" lengthAdjust="spacingAndGlyphs" >HLA-C</text>
<line x1="56.8" y1="618.24" x2="60" y2="618.24" stroke="#111" stroke-width="1"/>
<line x1="60.4" y1="333.8" x2="60.4" y2="625.8" stroke="#111" stroke-width="1.4"/>
<line x1="59.4" y1="625.2" x2="193" y2="625.2" stroke="#111" stroke-width="1.2"/>
<line x1="60.00" y1="625.2" x2="60.00" y2="628.3" stroke="#111" stroke-width="1"/>
<text x="60.4" y="637.9" font-size="8.3" text-anchor="middle" fill="#231f20" stroke="#231f20" stroke-width="0.1" font-weight="normal" >0</text>
<line x1="124.40" y1="625.2" x2="124.40" y2="628.3" stroke="#111" stroke-width="1"/>
<text x="124.8" y="637.9" font-size="8.3" text-anchor="middle" fill="#231f20" stroke="#231f20" stroke-width="0.1" font-weight="normal" >5</text>
<line x1="188.80" y1="625.2" x2="188.80" y2="628.3" stroke="#111" stroke-width="1"/>
<text x="189.2" y="637.9" font-size="8.3" text-anchor="middle" fill="#231f20" stroke="#231f20" stroke-width="0.1" font-weight="normal" >10</text>
<text x="99" y="652.3" font-size="9.6" fill="#231f20" stroke="#231f20" stroke-width="0.1" textLength="57.6" lengthAdjust="spacingAndGlyphs">Log<tspan font-size="6.8" dy="2.4">2</tspan><tspan dy="-2.4"> fold change</tspan></text>
<text transform="translate(8.5,522) rotate(-90)" font-size="9" fill="#231f20" stroke="#231f20" stroke-width="0.1" textLength="90.6" lengthAdjust="spacingAndGlyphs">Ligands for NK cell receptors</text>
<rect x="167.3" y="600.2" width="5.2" height="5.2" fill="#c8133b"/>
<rect x="167.3" y="611.5" width="5.2" height="5.2" fill="#18508a"/>
<text x="175.8" y="605.5" font-size="7.5" text-anchor="start" fill="#231f20" stroke="#231f20" stroke-width="0.1" font-weight="normal" >ST1</text>
<text x="175.8" y="616.8" font-size="7.5" text-anchor="start" fill="#231f20" stroke="#231f20" stroke-width="0.1" font-weight="normal" >KK1</text>
<text x="219.4" y="326.7" font-size="11" text-anchor="start" fill="#111" stroke="#111" stroke-width="0" font-weight="bold" textLength="7" lengthAdjust="spacingAndGlyphs" >E</text>
<text x="252" y="343.7" font-size="8.5" text-anchor="start" fill="#231f20" stroke="#231f20" stroke-width="0.1" font-weight="normal" textLength="48.2" lengthAdjust="spacingAndGlyphs" >19,114 genes</text>
<line x1="276" y1="347.5" x2="276" y2="388.1" stroke="#111" stroke-width="1.5"/>
<polygon points="273.0,387.6 276,393.3 279.0,387.6" fill="#111"/>
<text x="281.6" y="368.4" font-size="8.5" text-anchor="start" fill="#231f20" stroke="#231f20" stroke-width="0.1" font-weight="normal" textLength="111.1" lengthAdjust="spacingAndGlyphs" >Overlap between the 500 top</text>
<text x="281.6" y="377.7" font-size="8.5" text-anchor="start" fill="#231f20" stroke="#231f20" stroke-width="0.1" font-weight="normal" textLength="111.1" lengthAdjust="spacingAndGlyphs" >depleted genes in 2 ATLL lines</text>
<text x="260.5" y="402" font-size="8.5" text-anchor="start" fill="#231f20" stroke="#231f20" stroke-width="0.1" font-weight="normal" textLength="31.9" lengthAdjust="spacingAndGlyphs" >18 genes</text>
<line x1="276" y1="406.4" x2="276" y2="446.3" stroke="#111" stroke-width="1.5"/>
<polygon points="273.0,445.8 276,451.5 279.0,445.8" fill="#111"/>
<text x="281.6" y="426.6" font-size="8.5" fill="#231f20" stroke="#231f20" stroke-width="0.1" textLength="103.4" lengthAdjust="spacingAndGlyphs">3 or 4 sgRNAs with log<tspan font-size="5.8" dy="2">2</tspan><tspan dy="-2"> fold</tspan></text>
<text x="281.6" y="436" font-size="8.5" text-anchor="start" fill="#231f20" stroke="#231f20" stroke-width="0.1" font-weight="normal" textLength="70.7" lengthAdjust="spacingAndGlyphs" >change≤1 per gene</text>
<text x="264.7" y="460.7" font-size="8.5" text-anchor="start" fill="#c7325c" stroke="#c7325c" stroke-width="0.1" font-weight="normal" textLength="32.0" lengthAdjust="spacingAndGlyphs" >10 genes</text>
<text x="217.5" y="503.2" font-size="11" text-anchor="start" fill="#111" stroke="#111" stroke-width="0" font-weight="bold" textLength="6.6" lengthAdjust="spacingAndGlyphs" >F</text>
<rect x="253.40" y="514.20" width="4.4" height="40.33" fill="#18508a"/>
<rect x="253.40" y="554.53" width="4.4" height="53.65" fill="#c8133b"/>
<rect x="261.05" y="514.20" width="4.4" height="42.55" fill="#18508a"/>
<rect x="261.05" y="556.75" width="4.4" height="50.69" fill="#c8133b"/>
<rect x="268.69" y="514.20" width="4.4" height="15.32" fill="#18508a"/>
<rect x="268.69" y="529.52" width="4.4" height="53.95" fill="#c8133b"/>
<rect x="276.33" y="514.20" width="4.4" height="41.44" fill="#18508a"/>
<rect x="276.33" y="555.64" width="4.4" height="50.62" fill="#c8133b"/>
<rect x="283.98" y="514.20" width="4.4" height="25.90" fill="#18508a"/>
<rect x="283.98" y="540.10" width="4.4" height="52.91" fill="#c8133b"/>
<rect x="291.62" y="514.20" width="4.4" height="9.62" fill="#18508a"/>
<rect x="291.62" y="523.82" width="4.4" height="55.20" fill="#c8133b"/>
<rect x="299.27" y="514.20" width="4.4" height="45.14" fill="#18508a"/>
<rect x="299.27" y="559.34" width="4.4" height="53.28" fill="#c8133b"/>
<rect x="306.92" y="514.20" width="4.4" height="25.90" fill="#18508a"/>
<rect x="306.92" y="540.10" width="4.4" height="44.18" fill="#c8133b"/>
<rect x="314.56" y="514.20" width="4.4" height="13.32" fill="#18508a"/>
<rect x="314.56" y="527.52" width="4.4" height="45.88" fill="#c8133b"/>
<rect x="322.20" y="514.20" width="4.4" height="27.82" fill="#18508a"/>
<rect x="322.20" y="542.02" width="4.4" height="53.58" fill="#c8133b"/>
<rect x="329.85" y="514.20" width="4.4" height="21.31" fill="#18508a"/>
<rect x="329.85" y="535.51" width="4.4" height="52.69" fill="#c8133b"/>
<rect x="337.50" y="514.20" width="4.4" height="9.62" fill="#18508a"/>
<rect x="337.50" y="523.82" width="4.4" height="54.39" fill="#c8133b"/>
<rect x="345.14" y="514.20" width="4.4" height="15.02" fill="#18508a"/>
<rect x="345.14" y="529.22" width="4.4" height="61.49" fill="#c8133b"/>
<rect x="352.78" y="514.20" width="4.4" height="11.54" fill="#18508a"/>
<rect x="352.78" y="525.74" width="4.4" height="55.94" fill="#c8133b"/>
<rect x="360.43" y="514.20" width="4.4" height="9.62" fill="#18508a"/>
<rect x="360.43" y="523.82" width="4.4" height="50.69" fill="#c8133b"/>
<rect x="368.07" y="514.20" width="4.4" height="23.98" fill="#18508a"/>
<rect x="368.07" y="538.18" width="4.4" height="63.05" fill="#c8133b"/>
<rect x="375.72" y="514.20" width="4.4" height="21.46" fill="#18508a"/>
<rect x="375.72" y="535.66" width="4.4" height="61.05" fill="#c8133b"/>
<rect x="383.37" y="514.20" width="4.4" height="10.36" fill="#18508a"/>
<rect x="383.37" y="524.56" width="4.4" height="19.68" fill="#c8133b"/>
<rect x="391.01" y="514.20" width="4.4" height="13.76" fill="#18508a"/>
<rect x="391.01" y="527.96" width="4.4" height="52.54" fill="#c8133b"/>
<rect x="398.65" y="514.20" width="4.4" height="8.29" fill="#18508a"/>
<rect x="398.65" y="522.49" width="4.4" height="55.72" fill="#c8133b"/>
<rect x="406.30" y="514.20" width="4.4" height="17.02" fill="#18508a"/>
<rect x="406.30" y="531.22" width="4.4" height="45.51" fill="#c8133b"/>
<rect x="413.94" y="514.20" width="4.4" height="22.57" fill="#18508a"/>
<rect x="413.94" y="536.77" width="4.4" height="47.51" fill="#c8133b"/>
<rect x="421.59" y="514.20" width="4.4" height="15.32" fill="#18508a"/>
<rect x="421.59" y="529.52" width="4.4" height="44.99" fill="#c8133b"/>
<rect x="429.24" y="514.20" width="4.4" height="13.76" fill="#18508a"/>
<rect x="429.24" y="527.96" width="4.4" height="38.26" fill="#c8133b"/>
<rect x="436.88" y="514.20" width="4.4" height="21.46" fill="#18508a"/>
<rect x="436.88" y="535.66" width="4.4" height="43.66" fill="#c8133b"/>
<rect x="444.52" y="514.20" width="4.4" height="11.54" fill="#18508a"/>
<rect x="444.52" y="525.74" width="4.4" height="53.58" fill="#c8133b"/>
<rect x="452.17" y="514.20" width="4.4" height="27.82" fill="#18508a"/>
<rect x="452.17" y="542.02" width="4.4" height="23.46" fill="#c8133b"/>
<rect x="459.81" y="514.20" width="4.4" height="13.76" fill="#18508a"/>
<rect x="459.81" y="527.96" width="4.4" height="53.72" fill="#c8133b"/>
<rect x="467.46" y="514.20" width="4.4" height="15.76" fill="#18508a"/>
<rect x="467.46" y="529.96" width="4.4" height="48.77" fill="#c8133b"/>
<rect x="475.11" y="514.20" width="4.4" height="10.80" fill="#18508a"/>
<rect x="475.11" y="525.00" width="4.4" height="52.84" fill="#c8133b"/>
<rect x="482.75" y="514.20" width="4.4" height="9.03" fill="#18508a"/>
<rect x="482.75" y="523.23" width="4.4" height="29.23" fill="#c8133b"/>
<line x1="250.5" y1="510" x2="250.5" y2="625.4" stroke="#111" stroke-width="1.2"/>
<line x1="250" y1="514.2" x2="490.2" y2="514.2" stroke="#111" stroke-width="1.2"/>
<line x1="250" y1="624.8" x2="490.2" y2="624.8" stroke="#111" stroke-width="1.2"/>
<line x1="247.5" y1="514.20" x2="250.5" y2="514.20" stroke="#111" stroke-width="1"/>
<text x="245" y="517.1" font-size="8.4" text-anchor="end" fill="#231f20" stroke="#231f20" stroke-width="0.1" font-weight="normal" >0</text>
<line x1="247.5" y1="551.20" x2="250.5" y2="551.20" stroke="#111" stroke-width="1"/>
<text x="245" y="554.1" font-size="8.4" text-anchor="end" fill="#231f20" stroke="#231f20" stroke-width="0.1" font-weight="normal" >−5</text>
<line x1="247.5" y1="588.20" x2="250.5" y2="588.20" stroke="#111" stroke-width="1"/>
<text x="245" y="591.1" font-size="8.4" text-anchor="end" fill="#231f20" stroke="#231f20" stroke-width="0.1" font-weight="normal" >−10</text>
<line x1="247.5" y1="625.20" x2="250.5" y2="625.20" stroke="#111" stroke-width="1"/>
<text x="245" y="628.1" font-size="8.4" text-anchor="end" fill="#231f20" stroke="#231f20" stroke-width="0.1" font-weight="normal" >−15</text>
<line x1="250.40" y1="627" x2="250.40" y2="647.8" stroke="#444" stroke-width="0.8" stroke-dasharray="2,1.6"/>
<line x1="274.71" y1="514.8" x2="274.71" y2="647.8" stroke="#444" stroke-width="0.8" stroke-dasharray="2,1.6"/>
<line x1="297.65" y1="514.8" x2="297.65" y2="647.8" stroke="#444" stroke-width="0.8" stroke-dasharray="2,1.6"/>
<line x1="320.58" y1="514.8" x2="320.58" y2="647.8" stroke="#444" stroke-width="0.8" stroke-dasharray="2,1.6"/>
<line x1="343.52" y1="514.8" x2="343.52" y2="647.8" stroke="#444" stroke-width="0.8" stroke-dasharray="2,1.6"/>
<line x1="366.45" y1="514.8" x2="366.45" y2="647.8" stroke="#444" stroke-width="0.8" stroke-dasharray="2,1.6"/>
<line x1="389.39" y1="514.8" x2="389.39" y2="647.8" stroke="#444" stroke-width="0.8" stroke-dasharray="2,1.6"/>
<line x1="412.32" y1="514.8" x2="412.32" y2="647.8" stroke="#444" stroke-width="0.8" stroke-dasharray="2,1.6"/>
<line x1="435.26" y1="514.8" x2="435.26" y2="647.8" stroke="#444" stroke-width="0.8" stroke-dasharray="2,1.6"/>
<line x1="458.19" y1="514.8" x2="458.19" y2="647.8" stroke="#444" stroke-width="0.8" stroke-dasharray="2,1.6"/>
<line x1="489.40" y1="514.8" x2="489.40" y2="647.8" stroke="#444" stroke-width="0.8" stroke-dasharray="2,1.6"/>
<line x1="255.60" y1="624.8" x2="255.60" y2="627.8" stroke="#111" stroke-width="0.9"/>
<text x="255.8" y="637.6" font-size="8.6" text-anchor="middle" fill="#231f20" stroke="#231f20" stroke-width="0.12" font-weight="normal" >1</text>
<line x1="263.25" y1="624.8" x2="263.25" y2="627.8" stroke="#111" stroke-width="0.9"/>
<text x="263.44" y="637.6" font-size="8.6" text-anchor="middle" fill="#231f20" stroke="#231f20" stroke-width="0.12" font-weight="normal" >2</text>
<line x1="270.89" y1="624.8" x2="270.89" y2="627.8" stroke="#111" stroke-width="0.9"/>
<text x="271.09" y="637.6" font-size="8.6" text-anchor="middle" fill="#231f20" stroke="#231f20" stroke-width="0.12" font-weight="normal" >3</text>
<line x1="278.53" y1="624.8" x2="278.53" y2="627.8" stroke="#111" stroke-width="0.9"/>
<text x="278.73" y="637.6" font-size="8.6" text-anchor="middle" fill="#231f20" stroke="#231f20" stroke-width="0.12" font-weight="normal" >1</text>
<line x1="286.18" y1="624.8" x2="286.18" y2="627.8" stroke="#111" stroke-width="0.9"/>
<text x="286.38" y="637.6" font-size="8.6" text-anchor="middle" fill="#231f20" stroke="#231f20" stroke-width="0.12" font-weight="normal" >2</text>
<line x1="293.82" y1="624.8" x2="293.82" y2="627.8" stroke="#111" stroke-width="0.9"/>
<text x="294.02" y="637.6" font-size="8.6" text-anchor="middle" fill="#231f20" stroke="#231f20" stroke-width="0.12" font-weight="normal" >3</text>
<line x1="301.47" y1="624.8" x2="301.47" y2="627.8" stroke="#111" stroke-width="0.9"/>
<text x="301.67" y="637.6" font-size="8.6" text-anchor="middle" fill="#231f20" stroke="#231f20" stroke-width="0.12" font-weight="normal" >1</text>
<line x1="309.12" y1="624.8" x2="309.12" y2="627.8" stroke="#111" stroke-width="0.9"/>
<text x="309.31" y="637.6" font-size="8.6" text-anchor="middle" fill="#231f20" stroke="#231f20" stroke-width="0.12" font-weight="normal" >2</text>
<line x1="316.76" y1="624.8" x2="316.76" y2="627.8" stroke="#111" stroke-width="0.9"/>
<text x="316.96" y="637.6" font-size="8.6" text-anchor="middle" fill="#231f20" stroke="#231f20" stroke-width="0.12" font-weight="normal" >3</text>
<line x1="324.40" y1="624.8" x2="324.40" y2="627.8" stroke="#111" stroke-width="0.9"/>
<text x="324.6" y="637.6" font-size="8.6" text-anchor="middle" fill="#231f20" stroke="#231f20" stroke-width="0.12" font-weight="normal" >1</text>
<line x1="332.05" y1="624.8" x2="332.05" y2="627.8" stroke="#111" stroke-width="0.9"/>
<text x="332.25" y="637.6" font-size="8.6" text-anchor="middle" fill="#231f20" stroke="#231f20" stroke-width="0.12" font-weight="normal" >2</text>
<line x1="339.69" y1="624.8" x2="339.69" y2="627.8" stroke="#111" stroke-width="0.9"/>
<text x="339.89" y="637.6" font-size="8.6" text-anchor="middle" fill="#231f20" stroke="#231f20" stroke-width="0.12" font-weight="normal" >3</text>
<line x1="347.34" y1="624.8" x2="347.34" y2="627.8" stroke="#111" stroke-width="0.9"/>
<text x="347.54" y="637.6" font-size="8.6" text-anchor="middle" fill="#231f20" stroke="#231f20" stroke-width="0.12" font-weight="normal" >1</text>
<line x1="354.98" y1="624.8" x2="354.98" y2="627.8" stroke="#111" stroke-width="0.9"/>
<text x="355.18" y="637.6" font-size="8.6" text-anchor="middle" fill="#231f20" stroke="#231f20" stroke-width="0.12" font-weight="normal" >2</text>
<line x1="362.63" y1="624.8" x2="362.63" y2="627.8" stroke="#111" stroke-width="0.9"/>
<text x="362.83" y="637.6" font-size="8.6" text-anchor="middle" fill="#231f20" stroke="#231f20" stroke-width="0.12" font-weight="normal" >3</text>
<line x1="370.27" y1="624.8" x2="370.27" y2="627.8" stroke="#111" stroke-width="0.9"/>
<text x="370.47" y="637.6" font-size="8.6" text-anchor="middle" fill="#231f20" stroke="#231f20" stroke-width="0.12" font-weight="normal" >1</text>
<line x1="377.92" y1="624.8" x2="377.92" y2="627.8" stroke="#111" stroke-width="0.9"/>
<text x="378.12" y="637.6" font-size="8.6" text-anchor="middle" fill="#231f20" stroke="#231f20" stroke-width="0.12" font-weight="normal" >2</text>
<line x1="385.56" y1="624.8" x2="385.56" y2="627.8" stroke="#111" stroke-width="0.9"/>
<text x="385.76" y="637.6" font-size="8.6" text-anchor="middle" fill="#231f20" stroke="#231f20" stroke-width="0.12" font-weight="normal" >3</text>
<line x1="393.21" y1="624.8" x2="393.21" y2="627.8" stroke="#111" stroke-width="0.9"/>
<text x="393.41" y="637.6" font-size="8.6" text-anchor="middle" fill="#231f20" stroke="#231f20" stroke-width="0.12" font-weight="normal" >1</text>
<line x1="400.85" y1="624.8" x2="400.85" y2="627.8" stroke="#111" stroke-width="0.9"/>
<text x="401.05" y="637.6" font-size="8.6" text-anchor="middle" fill="#231f20" stroke="#231f20" stroke-width="0.12" font-weight="normal" >2</text>
<line x1="408.50" y1="624.8" x2="408.50" y2="627.8" stroke="#111" stroke-width="0.9"/>
<text x="408.7" y="637.6" font-size="8.6" text-anchor="middle" fill="#231f20" stroke="#231f20" stroke-width="0.12" font-weight="normal" >3</text>
<line x1="416.14" y1="624.8" x2="416.14" y2="627.8" stroke="#111" stroke-width="0.9"/>
<text x="416.34" y="637.6" font-size="8.6" text-anchor="middle" fill="#231f20" stroke="#231f20" stroke-width="0.12" font-weight="normal" >1</text>
<line x1="423.79" y1="624.8" x2="423.79" y2="627.8" stroke="#111" stroke-width="0.9"/>
<text x="423.99" y="637.6" font-size="8.6" text-anchor="middle" fill="#231f20" stroke="#231f20" stroke-width="0.12" font-weight="normal" >2</text>
<line x1="431.44" y1="624.8" x2="431.44" y2="627.8" stroke="#111" stroke-width="0.9"/>
<text x="431.63" y="637.6" font-size="8.6" text-anchor="middle" fill="#231f20" stroke="#231f20" stroke-width="0.12" font-weight="normal" >3</text>
<line x1="439.08" y1="624.8" x2="439.08" y2="627.8" stroke="#111" stroke-width="0.9"/>
<text x="439.28" y="637.6" font-size="8.6" text-anchor="middle" fill="#231f20" stroke="#231f20" stroke-width="0.12" font-weight="normal" >1</text>
<line x1="446.72" y1="624.8" x2="446.72" y2="627.8" stroke="#111" stroke-width="0.9"/>
<text x="446.92" y="637.6" font-size="8.6" text-anchor="middle" fill="#231f20" stroke="#231f20" stroke-width="0.12" font-weight="normal" >2</text>
<line x1="454.37" y1="624.8" x2="454.37" y2="627.8" stroke="#111" stroke-width="0.9"/>
<text x="454.57" y="637.6" font-size="8.6" text-anchor="middle" fill="#231f20" stroke="#231f20" stroke-width="0.12" font-weight="normal" >3</text>
<line x1="462.01" y1="624.8" x2="462.01" y2="627.8" stroke="#111" stroke-width="0.9"/>
<text x="462.21" y="637.6" font-size="8.6" text-anchor="middle" fill="#231f20" stroke="#231f20" stroke-width="0.12" font-weight="normal" >1</text>
<line x1="469.66" y1="624.8" x2="469.66" y2="627.8" stroke="#111" stroke-width="0.9"/>
<text x="469.86" y="637.6" font-size="8.6" text-anchor="middle" fill="#231f20" stroke="#231f20" stroke-width="0.12" font-weight="normal" >2</text>
<line x1="477.31" y1="624.8" x2="477.31" y2="627.8" stroke="#111" stroke-width="0.9"/>
<text x="477.5" y="637.6" font-size="8.6" text-anchor="middle" fill="#231f20" stroke="#231f20" stroke-width="0.12" font-weight="normal" >3</text>
<line x1="484.95" y1="624.8" x2="484.95" y2="627.8" stroke="#111" stroke-width="0.9"/>
<text x="485.15" y="637.6" font-size="8.6" text-anchor="middle" fill="#231f20" stroke="#231f20" stroke-width="0.12" font-weight="normal" >4</text>
<text x="218.2" y="637.4" font-size="8.8" text-anchor="start" fill="#231f20" stroke="#231f20" stroke-width="0.12" font-weight="normal" textLength="25.5" lengthAdjust="spacingAndGlyphs" >sgRNA</text>
<text x="224.2" y="653.3" font-size="8.8" text-anchor="start" fill="#231f20" stroke="#231f20" stroke-width="0.12" font-weight="normal" textLength="19.5" lengthAdjust="spacingAndGlyphs" >Gene</text>
<text transform="translate(267.56,648.5) rotate(-40)" font-size="8.4" text-anchor="end" fill="#231f20" stroke="#231f20" stroke-width="0.1" textLength="24.64" lengthAdjust="spacingAndGlyphs">DDX60</text>
<text transform="translate(291.18,648.5) rotate(-40)" font-size="8.4" text-anchor="end" fill="#231f20" stroke="#231f20" stroke-width="0.1" textLength="40.36" lengthAdjust="spacingAndGlyphs">ANKRD34A</text>
<text transform="translate(314.12,648.5) rotate(-40)" font-size="8.4" text-anchor="end" fill="#231f20" stroke="#231f20" stroke-width="0.1" textLength="24.64" lengthAdjust="spacingAndGlyphs">TRPV6</text>
<text transform="translate(337.05,648.5) rotate(-40)" font-size="8.4" text-anchor="end" fill="#231f20" stroke="#231f20" stroke-width="0.1" textLength="29.30" lengthAdjust="spacingAndGlyphs">ZWILCH</text>
<text transform="translate(359.99,648.5) rotate(-40)" font-size="8.4" text-anchor="end" fill="#231f20" stroke="#231f20" stroke-width="0.1" textLength="25.91" lengthAdjust="spacingAndGlyphs">CSDC2</text>
<text transform="translate(382.92,648.5) rotate(-40)" font-size="8.4" text-anchor="end" fill="#231f20" stroke="#231f20" stroke-width="0.1" textLength="14.87" lengthAdjust="spacingAndGlyphs">LXN</text>
<text transform="translate(405.85,648.5) rotate(-40)" font-size="8.4" text-anchor="end" fill="#231f20" stroke="#231f20" stroke-width="0.1" textLength="25.91" lengthAdjust="spacingAndGlyphs">IFNA10</text>
<text transform="translate(428.79,648.5) rotate(-40)" font-size="8.4" text-anchor="end" fill="#231f20" stroke="#231f20" stroke-width="0.1" textLength="29.74" lengthAdjust="spacingAndGlyphs">AKIRIN1</text>
<text transform="translate(451.72,648.5) rotate(-40)" font-size="8.4" text-anchor="end" fill="#231f20" stroke="#231f20" stroke-width="0.1" textLength="39.79" lengthAdjust="spacingAndGlyphs">CATSPER2</text>
<text transform="translate(478.80,648.5) rotate(-40)" font-size="8.4" text-anchor="end" fill="#231f20" stroke="#231f20" stroke-width="0.1" textLength="38.23" lengthAdjust="spacingAndGlyphs">SERPINC1</text>
<text transform="translate(224.9,599.3) rotate(-90)" font-size="9.8" fill="#231f20" stroke="#231f20" stroke-width="0.1" textLength="58.6" lengthAdjust="spacingAndGlyphs">Log<tspan font-size="7" dy="2.4">2</tspan><tspan dy="-2.4"> fold change</tspan></text>
<rect x="497.5" y="516.3" width="5.2" height="4.8" fill="#c8133b"/>
<rect x="497.5" y="527.6" width="5.2" height="4.8" fill="#18508a"/>
<text x="505" y="521.3" font-size="7.5" text-anchor="start" fill="#231f20" stroke="#231f20" stroke-width="0.1" font-weight="normal" >ST1</text>
<text x="505" y="532.6" font-size="7.5" text-anchor="start" fill="#231f20" stroke="#231f20" stroke-width="0.1" font-weight="normal" >KK1</text>
</svg></body></html>
